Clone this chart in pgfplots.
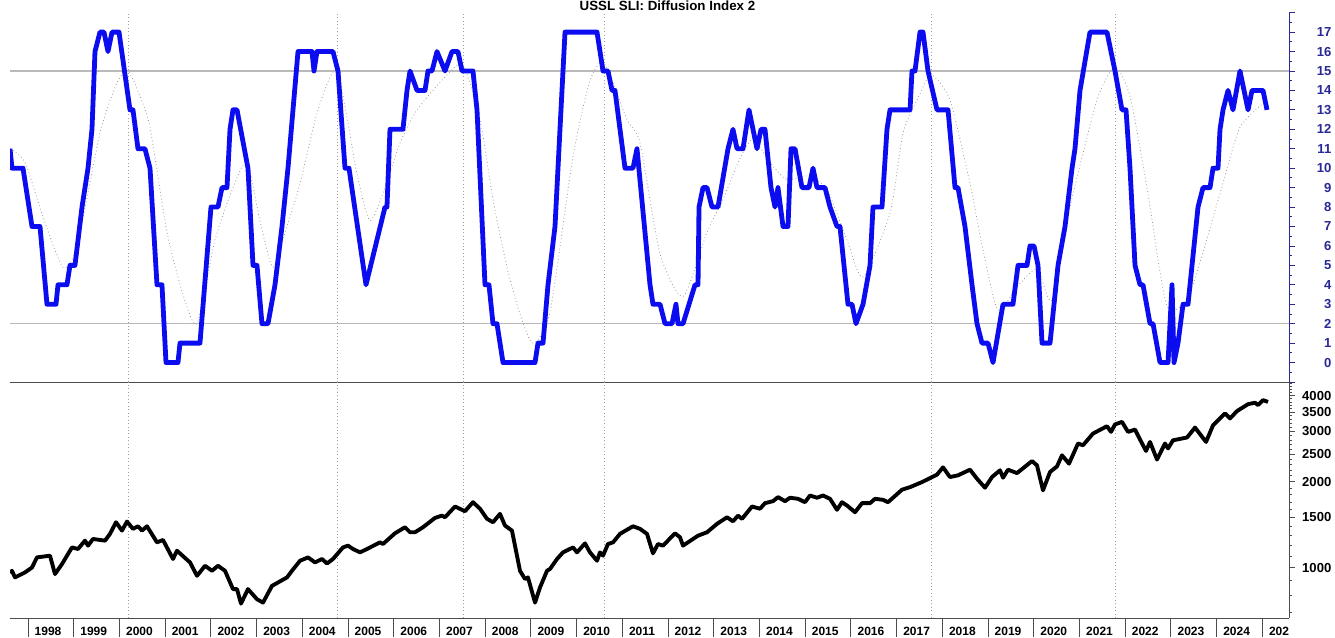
\documentclass[border=0pt]{standalone}
\usepackage{fontspec}
\setmainfont{Liberation Sans}
\usepackage{pgfplots}
\pgfplotsset{compat=1.18}
\definecolor{navyt}{RGB}{40,40,150}
\definecolor{idxblue}{RGB}{12,12,240}
\definecolor{hline}{RGB}{185,185,185}
\newcommand{\tickfont}{\bfseries\fontsize{9}{10}\selectfont}
\newcommand{\ytickfont}{\bfseries\fontsize{9.8}{11}\selectfont}
\begin{document}
\begin{tikzpicture}
\path[use as bounding box] (0,0) rectangle (1001.25pt,477.75pt);
\node[anchor=base, font=\bfseries\fontsize{10}{11}\selectfont] at (500.6pt,469.5pt) {USSL SLI: Diffusion Index 2};
% ---------------- top panel ----------------
\begin{axis}[
  at={(7.5pt,191.25pt)}, anchor=south west, scale only axis,
  width=959.25pt, height=277pt,
  xmin=1997.607, xmax=2025.581, ymin=-1, ymax=18,
  axis x line*=bottom, axis y line*=right,
  x axis line style={-, draw=black!70, line width=0.6pt},
  y axis line style={-, draw=navyt, line width=0.6pt},
  xtick=\empty,
  ytick={-1,0,...,18},
  yticklabels={,0,1,2,3,4,5,6,7,8,9,10,11,12,13,14,15,16,17,},
  minor ytick={-0.5,0.5,...,17.5},
  tick align=outside, major tick length=4.5pt, minor tick length=2.25pt,
  tick style={draw=navyt, line width=0.6pt},
  yticklabel style={font=\ytickfont, text=navyt, anchor=east, xshift=30.75pt},
  line join=round,
]
\addplot[hline, line width=1.2pt] coordinates {(1997.607,15) (2025.581,15)};
\addplot[hline, line width=1.2pt] coordinates {(1997.607,2) (2025.581,2)};
\foreach \d in {2000.188,2004.759,2007.515,2010.599,2017.751,2021.775}{
  \edef\temp{\noexpand\addplot[gray!75, dotted, line width=0.6pt] coordinates {(\d,-1) (\d,18)};}
  \temp
}
% smoothed index
\addplot[gray!80, dotted, line width=0.6pt, smooth, tension=0.4] coordinates {
(1997.607,11) (1997.935,10.3) (1998.328,7.5) (1998.766,4.9) (1999.072,6.0) (1999.575,11.8)
(1999.947,14.4) (2000.188,15) (2000.450,13.7) (2000.669,12.1) (2001.041,6.7) (2001.391,3.5)
(2001.697,2.0) (2002.090,6.3) (2002.484,9) (2002.790,10.3) (2003.075,7.3) (2003.359,4.9)
(2003.665,7) (2003.950,9.2) (2004.343,13) (2004.759,15) (2005.196,9.7) (2005.481,7.3)
(2005.809,9) (2006.137,11.3) (2006.509,13) (2007.165,14.8) (2007.515,15.3) (2007.887,12.5)
(2008.171,8.4) (2008.477,4.9) (2008.761,2.5) (2009.046,1.0) (2009.418,2.6) (2009.921,10.6)
(2010.292,14.5) (2010.599,15.4) (2011.102,12.5) (2011.386,11.3) (2011.824,5.6) (2012.327,3.4)
(2012.852,6.7) (2013.201,8.4) (2013.573,10.5) (2013.858,11.5) (2014.229,10.3) (2014.601,9.4)
(2015.039,9.6) (2015.476,8.9) (2015.914,6.3) (2016.264,4.4) (2016.854,7.7) (2017.138,11.8)
(2017.445,13.5) (2017.751,14.8) (2018.166,13.5) (2018.604,9.2) (2018.888,5.8) (2019.216,2.7)
(2019.632,3.9) (2020.069,4.8) (2020.397,3.2) (2020.791,8) (2021.382,13.5) (2021.775,15.2)
(2022.103,13.7) (2022.475,9) (2022.913,2.9) (2023.416,3.6) (2024.072,8.7) (2024.509,12.1)
(2025.100,13.5)};
% diffusion index
\addplot[idxblue, line width=3.6pt] coordinates {
(1997.607,11) (1997.650,10) (1997.891,10) (1998.088,7) (1998.263,7) (1998.416,3) (1998.613,3)
(1998.657,4) (1998.853,4) (1998.919,5) (1999.028,5) (1999.182,8) (1999.313,10) (1999.400,12)
(1999.466,16) (1999.575,17) (1999.663,17) (1999.750,16) (1999.838,17) (1999.991,17) (2000.231,13)
(2000.297,13) (2000.406,11) (2000.559,11) (2000.669,10) (2000.822,4) (2000.931,4) (2001.019,0)
(2001.281,0) (2001.325,1) (2001.762,1) (2002.003,8) (2002.156,8) (2002.244,9) (2002.353,9)
(2002.419,12) (2002.484,13) (2002.572,13) (2002.812,10) (2002.922,5) (2003.009,5) (2003.118,2)
(2003.250,2) (2003.403,4) (2003.556,7) (2003.687,10) (2003.906,16) (2004.212,16) (2004.256,15)
(2004.321,16) (2004.671,16) (2004.781,15) (2004.934,10) (2005.021,10) (2005.393,4) (2005.809,8)
(2005.852,8) (2005.918,12) (2006.202,12) (2006.290,14) (2006.356,15) (2006.509,14) (2006.684,14)
(2006.749,15) (2006.837,15) (2006.946,16) (2007.121,15) (2007.274,16) (2007.405,16) (2007.493,15)
(2007.733,15) (2007.821,13) (2007.996,4) (2008.083,4) (2008.171,2) (2008.258,2) (2008.390,0)
(2009.090,0) (2009.155,1) (2009.265,1) (2009.374,4) (2009.527,7) (2009.636,12) (2009.746,17)
(2010.446,17) (2010.577,15) (2010.686,15) (2010.774,14) (2010.839,14) (2011.058,10) (2011.233,10)
(2011.320,11) (2011.605,4) (2011.670,3) (2011.824,3) (2011.933,2) (2012.086,2) (2012.173,3)
(2012.217,2) (2012.327,2) (2012.589,4) (2012.655,4) (2012.677,8) (2012.764,9) (2012.852,9)
(2012.961,8) (2013.092,8) (2013.311,11) (2013.420,12) (2013.508,11) (2013.639,11) (2013.770,13)
(2013.945,11) (2014.033,12) (2014.120,12) (2014.251,9) (2014.339,8) (2014.404,9) (2014.514,7)
(2014.623,7) (2014.689,11) (2014.776,11) (2014.929,9) (2015.082,9) (2015.170,10) (2015.257,9)
(2015.432,9) (2015.542,8) (2015.695,7) (2015.760,7) (2015.935,3) (2016.023,3) (2016.110,2)
(2016.264,3) (2016.417,5) (2016.482,8) (2016.679,8) (2016.788,12) (2016.854,13) (2017.292,13)
(2017.335,15) (2017.401,15) (2017.510,17) (2017.576,17) (2017.685,15) (2017.882,13) (2018.123,13)
(2018.276,9) (2018.341,9) (2018.494,7) (2018.648,4) (2018.757,2) (2018.866,1) (2018.998,1)
(2019.107,0) (2019.326,3) (2019.544,3) (2019.654,5) (2019.851,5) (2019.916,6) (2020.004,6)
(2020.091,5) (2020.179,1) (2020.354,1) (2020.529,5) (2020.682,7) (2020.835,10) (2020.900,11)
(2021.010,14) (2021.228,17) (2021.600,17) (2021.775,15) (2021.928,13) (2022.016,13) (2022.103,10)
(2022.213,5) (2022.322,4) (2022.388,4) (2022.541,2) (2022.607,2) (2022.760,0) (2022.935,0)
(2023.022,4) (2023.066,0) (2023.153,1) (2023.263,3) (2023.372,3) (2023.591,8) (2023.700,9)
(2023.853,9) (2023.919,10) (2024.028,10) (2024.072,12) (2024.138,13) (2024.247,14) (2024.356,13)
(2024.509,15) (2024.685,13) (2024.772,14) (2025.012,14) (2025.100,13)};
\end{axis}
% ---------------- bottom panel ----------------
\begin{axis}[
  at={(7.5pt,14.25pt)}, anchor=south west, scale only axis,
  width=959.25pt, height=177pt,
  xmin=1997.607, xmax=2025.581, ymode=log, ymin=667, ymax=4468,
  axis x line*=box, axis y line*=right,
  x axis line style={-, draw=black!70, line width=0.6pt},
  y axis line style={-, draw=black!70, line width=0.6pt},
  xtick={1998,1999,...,2025},
  xticklabels={1998,1999,2000,2001,2002,2003,2004,2005,2006,2007,2008,2009,2010,2011,2012,2013,2014,2015,2016,2017,2018,2019,2020,2021,2022,2023,2024,202},
  xtick pos=left,
  xtick style={/pgfplots/major tick length=14.25pt, draw=black!70, line width=0.6pt},
  xticklabel style={font=\tickfont, anchor=base west, xshift=1.5pt, yshift=-9pt},
  ytick={1000,1500,2000,2500,3000,3500,4000},
  yticklabels={1000,1500,2000,2500,3000,3500,4000},
  minor ytick={700,800,900,1100,1200,1300,1400,1600,1700,1800,1900,2100,2200,2300,2400,2600,2700,2800,2900,3100,3200,3300,3400,3600,3700,3800,3900,4100,4200,4300,4400},
  tick align=outside, major tick length=4.5pt, minor tick length=2.25pt,
  ytick style={draw=black!70, line width=0.6pt},
  yticklabel style={font=\ytickfont, anchor=east, xshift=30.75pt},
  line join=round,
]
\foreach \d in {2000.188,2004.759,2007.515,2010.599,2017.751,2021.775}{
  \edef\temp{\noexpand\addplot[gray!75, dotted, line width=0.6pt] coordinates {(\d,667) (\d,4468)};}
  \temp
}
\addplot[black, line width=2.9pt] coordinates {
(1997.607,960) (1997.650,976) (1997.716,925) (1997.935,963) (1998.088,1002) (1998.197,1087)
(1998.482,1102) (1998.591,950) (1998.744,1030) (1998.963,1178) (1999.094,1163) (1999.247,1244)
(1999.313,1195) (1999.422,1261) (1999.685,1244) (1999.794,1314) (1999.925,1443) (2000.056,1349)
(2000.166,1451) (2000.297,1368) (2000.406,1397) (2000.494,1349) (2000.603,1397) (2000.822,1227)
(2000.953,1251) (2001.172,1073) (2001.259,1147) (2001.544,1044) (2001.697,937) (2001.872,1016)
(2002.025,976) (2002.156,1016) (2002.309,976) (2002.484,842) (2002.572,842) (2002.659,749)
(2002.812,842) (2003.009,776) (2003.140,755) (2003.337,864) (2003.665,925) (2003.775,976)
(2003.950,1058) (2004.125,1087) (2004.278,1044) (2004.431,1073) (2004.540,1035) (2004.671,1073)
(2004.890,1178) (2004.999,1195) (2005.109,1163) (2005.262,1132) (2005.415,1163) (2005.699,1227)
(2005.765,1211) (2006.027,1320) (2006.246,1386) (2006.356,1331) (2006.465,1331) (2006.640,1386)
(2006.902,1494) (2007.055,1522) (2007.121,1502) (2007.340,1638) (2007.558,1577) (2007.733,1696)
(2007.887,1609) (2008.040,1483) (2008.171,1443) (2008.324,1544) (2008.433,1405) (2008.586,1349)
(2008.761,976) (2008.871,913) (2008.936,925) (2009.090,755) (2009.199,853) (2009.352,976)
(2009.418,990) (2009.571,1073) (2009.702,1132) (2009.921,1178) (2010.008,1132) (2010.183,1217)
(2010.292,1132) (2010.446,1058) (2010.511,1132) (2010.577,1102) (2010.686,1211) (2010.796,1227)
(2010.949,1314) (2011.233,1397) (2011.386,1368) (2011.539,1314) (2011.670,1123) (2011.780,1211)
(2011.889,1195) (2012.152,1320) (2012.261,1278) (2012.327,1195) (2012.655,1295) (2012.852,1331)
(2013.070,1424) (2013.289,1502) (2013.420,1454) (2013.530,1522) (2013.617,1483) (2013.836,1638)
(2014.011,1609) (2014.120,1683) (2014.295,1710) (2014.404,1767) (2014.558,1710) (2014.667,1758)
(2014.842,1743) (2014.995,1696) (2015.104,1790) (2015.257,1758) (2015.389,1790) (2015.542,1743)
(2015.695,1595) (2015.804,1696) (2015.914,1651) (2016.089,1564) (2016.242,1683) (2016.417,1683)
(2016.526,1743) (2016.701,1729) (2016.810,1696) (2017.117,1876) (2017.292,1915) (2017.554,1995)
(2017.882,2118) (2018.013,2246) (2018.166,2077) (2018.341,2106) (2018.604,2204) (2018.757,2049)
(2018.932,1906) (2019.085,2077) (2019.260,2193) (2019.326,2066) (2019.435,2204) (2019.632,2144)
(2019.960,2363) (2020.069,2282) (2020.200,1866) (2020.354,2163) (2020.507,2264) (2020.616,2475)
(2020.769,2314) (2020.966,2722) (2021.075,2683) (2021.294,2949) (2021.600,3129) (2021.688,2989)
(2021.775,3174) (2021.928,3240) (2022.060,2989) (2022.213,3046) (2022.322,2811) (2022.453,2563)
(2022.541,2756) (2022.694,2391) (2022.869,2722) (2022.935,2615) (2023.044,2793) (2023.350,2856)
(2023.525,3096) (2023.766,2756) (2023.919,3152) (2024.181,3469) (2024.291,3331) (2024.444,3535)
(2024.685,3737) (2024.838,3780) (2024.904,3710) (2025.012,3861) (2025.122,3806)};
\end{axis}
\end{tikzpicture}
\end{document}
